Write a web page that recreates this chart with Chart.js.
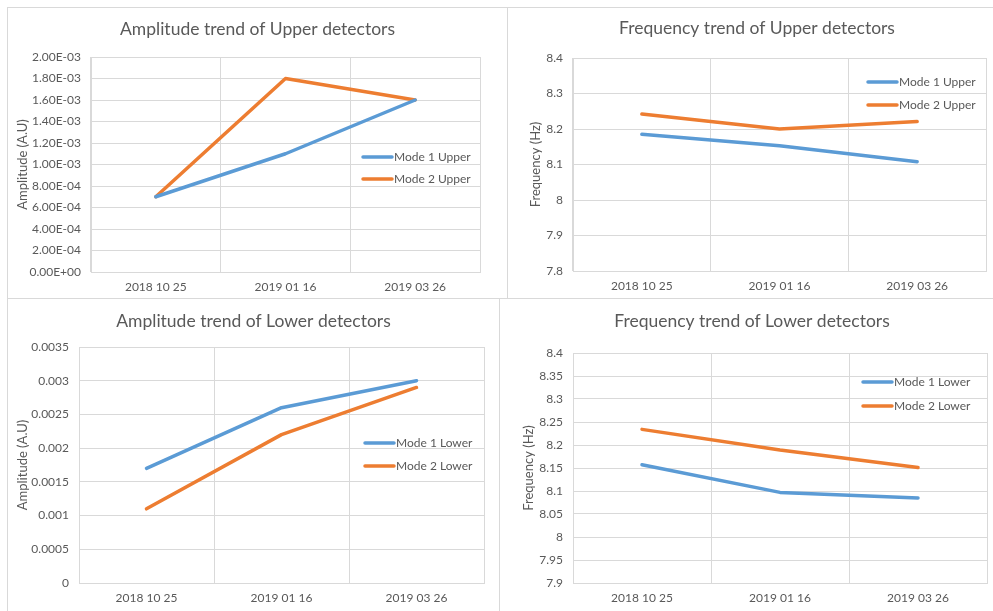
<!DOCTYPE html>
<html>
<head>
<meta charset="utf-8">
<script src="https://cdn.jsdelivr.net/npm/chart.js@4/dist/chart.umd.min.js"></script>
<style>
  html, body { margin: 0; padding: 0; background: #fff; overflow: hidden; width: 993px; height: 611px; }
  .panel { position: absolute; border: 1px solid #d9d9d9; background: #fff; }
  .panel canvas { display: block; }
</style>
</head>
<body>
<div class="panel" style="left:7px;top:7px;width:499px;height:290px"><canvas id="c1" width="499" height="290"></canvas></div>
<div class="panel" style="left:507px;top:7px;width:498px;height:290px"><canvas id="c2" width="498" height="290"></canvas></div>
<div class="panel" style="left:7px;top:298px;width:491px;height:316px"><canvas id="c3" width="491" height="316"></canvas></div>
<div class="panel" style="left:499px;top:298px;width:504px;height:316px"><canvas id="c4" width="504" height="316"></canvas></div>
<script>
const dates = ["2018 10 25", "2019 01 16", "2019 03 26"];

const ampUpperMode1 = [0.0007, 0.0011, 0.0016];
const ampUpperMode2 = [0.0007, 0.0018, 0.0016];
const freqUpperMode1 = [8.185, 8.153, 8.108];
const freqUpperMode2 = [8.242, 8.2, 8.221];
const ampLowerMode1 = [0.0017, 0.0026, 0.003];
const ampLowerMode2 = [0.0011, 0.0022, 0.0029];
const freqLowerMode1 = [8.157, 8.097, 8.085];
const freqLowerMode2 = [8.234, 8.189, 8.151];

const ampUpperTicks = [0, 0.0002, 0.0004, 0.0006, 0.0008, 0.001, 0.0012, 0.0014, 0.0016, 0.0018, 0.002];
const freqUpperTicks = [7.8, 7.9, 8, 8.1, 8.2, 8.3, 8.4];
const ampLowerTicks = [0, 0.0005, 0.001, 0.0015, 0.002, 0.0025, 0.003, 0.0035];
const freqLowerTicks = [7.9, 7.95, 8, 8.05, 8.1, 8.15, 8.2, 8.25, 8.3, 8.35, 8.4];

const BLUE = "#5b9bd5";
const ORANGE = "#ed7d31";
const TEXT = "#595959";
const GRID = "#d9d9d9";
const FONT = "Lato";

const sci = (v) => {
  if (v === 0) return "0.00E+00";
  const [m, e] = v.toExponential(2).split("e");
  const n = parseInt(e, 10);
  return m + "E" + (n < 0 ? "-" : "+") + String(Math.abs(n)).padStart(2, "0");
};

// legend drawn inside the plot, like the excel one
const insideLegend = {
  id: "insideLegend",
  afterDraw(chart, args, opts) {
    const ctx = chart.ctx;
    ctx.save();
    chart.data.datasets.forEach((ds, i) => {
      const y = opts.rows[i];
      ctx.strokeStyle = ds.borderColor;
      ctx.lineWidth = 3.5;
      ctx.lineCap = "round";
      ctx.beginPath();
      ctx.moveTo(opts.x, y);
      ctx.lineTo(opts.x + 29, y);
      ctx.stroke();
      ctx.fillStyle = TEXT;
      ctx.font = "12px " + FONT;
      ctx.textBaseline = "middle";
      ctx.fillText(ds.label, opts.x + 31, y);
    });
    ctx.restore();
  },
};

const makeChart = (id, s) => {
  const canvas = document.getElementById(id);
  const w = canvas.width, h = canvas.height;
  return new Chart(canvas, {
    type: "line",
    data: {
      labels: dates,
      datasets: [
        { label: s.names[0], data: s.d1, borderColor: BLUE, backgroundColor: BLUE },
        { label: s.names[1], data: s.d2, borderColor: ORANGE, backgroundColor: ORANGE },
      ],
    },
    plugins: [insideLegend],
    options: {
      responsive: false,
      animation: false,
      layout: { padding: 0 },
      elements: {
        line: { borderWidth: 3.5, tension: 0, borderCapStyle: "round", borderJoinStyle: "round" },
        point: { radius: 0, hoverRadius: 0 },
      },
      plugins: {
        legend: { display: false },
        tooltip: { enabled: false },
        title: {
          display: true,
          text: s.title,
          color: TEXT,
          font: { family: FONT, size: 17.5, weight: "normal", lineHeight: 1.2 },
          padding: { top: s.titleY - 10.5, bottom: s.area.t - s.titleY - 10.5 },
        },
        insideLegend: s.legend,
      },
      scales: {
        x: {
          offset: true,
          grid: { offset: true, color: GRID, drawTicks: false },
          border: { color: GRID },
          ticks: { color: TEXT, font: { family: FONT, size: 12 }, padding: s.xPad, maxRotation: 0 },
          afterFit: (sc) => { sc.height = h - s.area.b; },
        },
        y: {
          min: s.ticks[0],
          max: s.ticks[s.ticks.length - 1],
          afterBuildTicks: (sc) => { sc.ticks = s.ticks.map((v) => ({ value: v })); },
          grid: { color: GRID, drawTicks: false },
          border: { color: GRID },
          ticks: { color: TEXT, font: { family: FONT, size: 12 }, padding: 10, callback: s.fmt },
          title: {
            display: true,
            text: s.yTitle,
            color: TEXT,
            font: { family: FONT, size: 13 },
            padding: { top: s.yTitleX - 7.8, bottom: 0 },
          },
          afterFit: (sc) => { sc.width = s.area.l; },
        },
        // empty right-hand strip so the title stays centred on the whole panel
        spacer: {
          type: "linear",
          position: "right",
          grid: { display: false },
          border: { display: false },
          ticks: { display: false },
          afterFit: (sc) => { sc.width = w - s.area.r; },
        },
      },
    },
  });
};

makeChart("c1", {
  title: "Amplitude trend of Upper detectors",
  names: ["Mode 1 Upper", "Mode 2 Upper"],
  d1: ampUpperMode1, d2: ampUpperMode2,
  ticks: ampUpperTicks, fmt: (v) => sci(v),
  yTitle: "Amplitude (A.U)",
  area: { l: 83, r: 472, t: 49, b: 264 },
  titleY: 21, yTitleX: 15, xPad: 8,
  legend: { x: 355, rows: [149, 171] },
});

makeChart("c2", {
  title: "Frequency trend of Upper detectors",
  names: ["Mode 1 Upper", "Mode 2 Upper"],
  d1: freqUpperMode1, d2: freqUpperMode2,
  ticks: freqUpperTicks, fmt: (v) => String(v),
  yTitle: "Frequency (Hz)",
  area: { l: 65, r: 478, t: 50, b: 263 },
  titleY: 20, yTitleX: 28, xPad: 8,
  legend: { x: 360, rows: [74, 97] },
});

makeChart("c3", {
  title: "Amplitude trend of Lower detectors",
  names: ["Mode 1 Lower", "Mode 2 Lower"],
  d1: ampLowerMode1, d2: ampLowerMode2,
  ticks: ampLowerTicks, fmt: (v) => String(v),
  yTitle: "Amplitude (A.U)",
  area: { l: 71, r: 476, t: 48, b: 284 },
  titleY: 22, yTitleX: 15, xPad: 8,
  legend: { x: 357, rows: [144, 167] },
});

makeChart("c4", {
  title: "Frequency trend of Lower detectors",
  names: ["Mode 1 Lower", "Mode 2 Lower"],
  d1: freqLowerMode1, d2: freqLowerMode2,
  ticks: freqLowerTicks, fmt: (v) => String(v),
  yTitle: "Frequency (Hz)",
  area: { l: 73, r: 487, t: 54, b: 284 },
  titleY: 22, yTitleX: 29, xPad: 8,
  legend: { x: 363, rows: [83, 107] },
});
</script>
</body>
</html>
